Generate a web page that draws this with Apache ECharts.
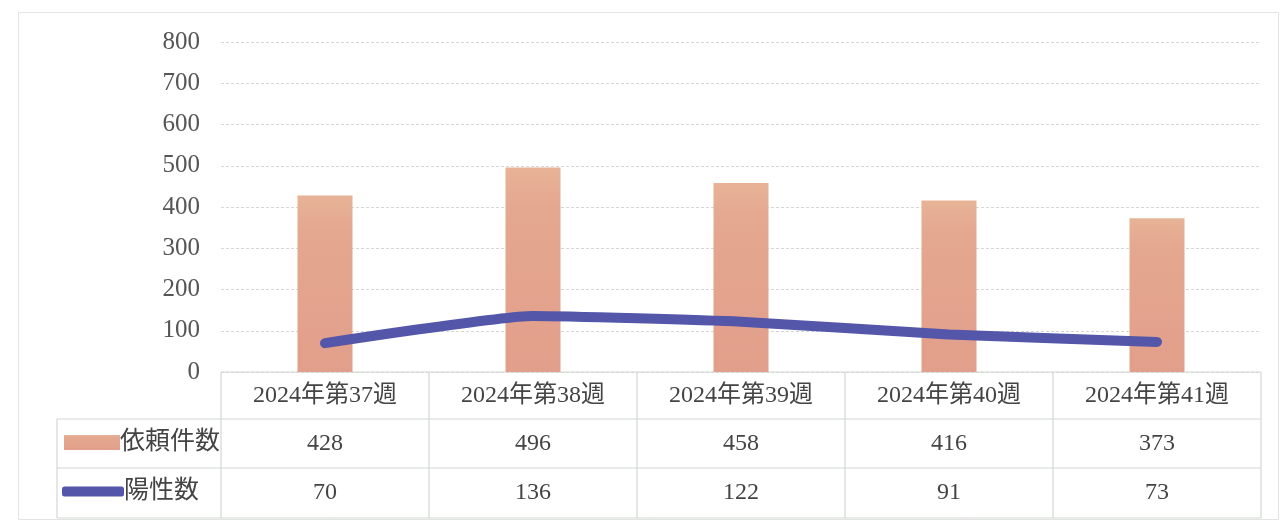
<!DOCTYPE html>
<html><head><meta charset="utf-8">
<script src="https://cdn.jsdelivr.net/npm/echarts@6/dist/echarts.min.js"></script>
<style>html,body{margin:0;padding:0;background:#fff}#c{width:1281px;height:521px}</style>
</head><body><div id="c"></div>
<script>
const categories = ['2024年第37週','2024年第38週','2024年第39週','2024年第40週','2024年第41週'];
const requests = [428, 496, 458, 416, 373];
const positives = [70, 136, 122, 91, 73];
const seriesNames = ['依頼件数', '陽性数'];
const yTicks = {min: 0, max: 800, interval: 100};

const FONT = "'Liberation Serif','DejaVu Serif','Noto Sans CJK JP',serif";
const W = 1281, H = 521;
const G = {left: 221, right: 20, top: 42, bottom: 149};
const gx0 = G.left, gx1 = W - G.right, gy1 = H - G.bottom;
const rowH = [47, 49, 50];
const legX = 57;
const lineCol = '#d3d7d3';

const chart = echarts.init(document.getElementById('c'), null, {renderer: 'canvas'});

const n = categories.length;
const colW = (gx1 - gx0) / n;
const y1 = gy1 + rowH[0], y2 = y1 + rowH[1], y3 = y2 + rowH[2];
const graphics = [];
graphics.push({type:'rect', shape:{x:18.5,y:12.5,width:1260,height:507}, style:{fill:'none', stroke:'#e2e4e2', lineWidth:1}, silent:true});
function hline(x0,x1,y){graphics.push({type:'line', shape:{x1:x0,y1:y,x2:x1,y2:y}, style:{stroke:lineCol, lineWidth:1.2}, silent:true});}
function vline(x,ya,yb){graphics.push({type:'line', shape:{x1:x,y1:ya,x2:x,y2:yb}, style:{stroke:lineCol, lineWidth:1.2}, silent:true});}
hline(gx0, gx1, gy1);
hline(legX, gx1, y1);
hline(legX, gx1, y2);
hline(legX, gx1, y3);
for (let i = 0; i <= n; i++) vline(gx0 + colW*i, gy1, y3);
vline(legX, y1, y3);

function valAxis(data, offset){
  return {type:'category', data: data.map(String), position:'bottom', offset: offset, gridIndex:0,
    axisLine:{show:false}, axisTick:{show:false},
    axisLabel:{color:'#444', fontSize:24, fontFamily:FONT, margin:12, interval:0}};
}

chart.setOption({
  animation:false,
  backgroundColor:'#fff',
  grid:{left:G.left, right:G.right, top:G.top, bottom:G.bottom, containLabel:false},
  legend:[
    {data:[{name:seriesNames[0], icon:'rect'}], left:64, top: 430, padding:0, itemWidth:56, itemHeight:15, itemGap:0,
     textStyle:{fontSize:25, fontFamily:FONT, color:'#444', padding:[0,0,0,-5]}},
    {data:[{name:seriesNames[1], icon:'roundRect'}], left:62, top: 479, padding:0, itemWidth:62, itemHeight:10,
     textStyle:{fontSize:25, fontFamily:FONT, color:'#444', padding:[0,0,0,-5]}}
  ],
  xAxis:[
    {type:'category', data:categories, axisLine:{show:false}, axisTick:{show:false},
     axisLabel:{color:'#444', fontSize:24, fontFamily:FONT, margin:12, interval:0}},
    valAxis(requests, 48),
    valAxis(positives, 97)
  ],
  yAxis:{type:'value', min:yTicks.min, max:yTicks.max, interval:yTicks.interval,
    axisLine:{show:false}, axisTick:{show:false},
    axisLabel:{color:'#555', fontSize:25, fontFamily:FONT, margin:21},
    splitLine:{lineStyle:{color:'#d6d6d6', type:[3,2], width:1}}},
  series:[
    {name:seriesNames[0], type:'bar', data:requests, barWidth:55, xAxisIndex:0,
     itemStyle:{color:new echarts.graphic.LinearGradient(0,0,0,1,[{offset:0,color:'#e7b396'},{offset:0.2,color:'#e4a790'},{offset:1,color:'#e29f8b'}])}},
    {name:seriesNames[1], type:'line', data:positives, xAxisIndex:0, smooth:0.15, showSymbol:false, symbol:'none',
     lineStyle:{color:'#5356a9', width:10, cap:'round', join:'round'}, itemStyle:{color:'#5356a9'}}
  ],
  graphic: graphics
});
</script></body></html>
